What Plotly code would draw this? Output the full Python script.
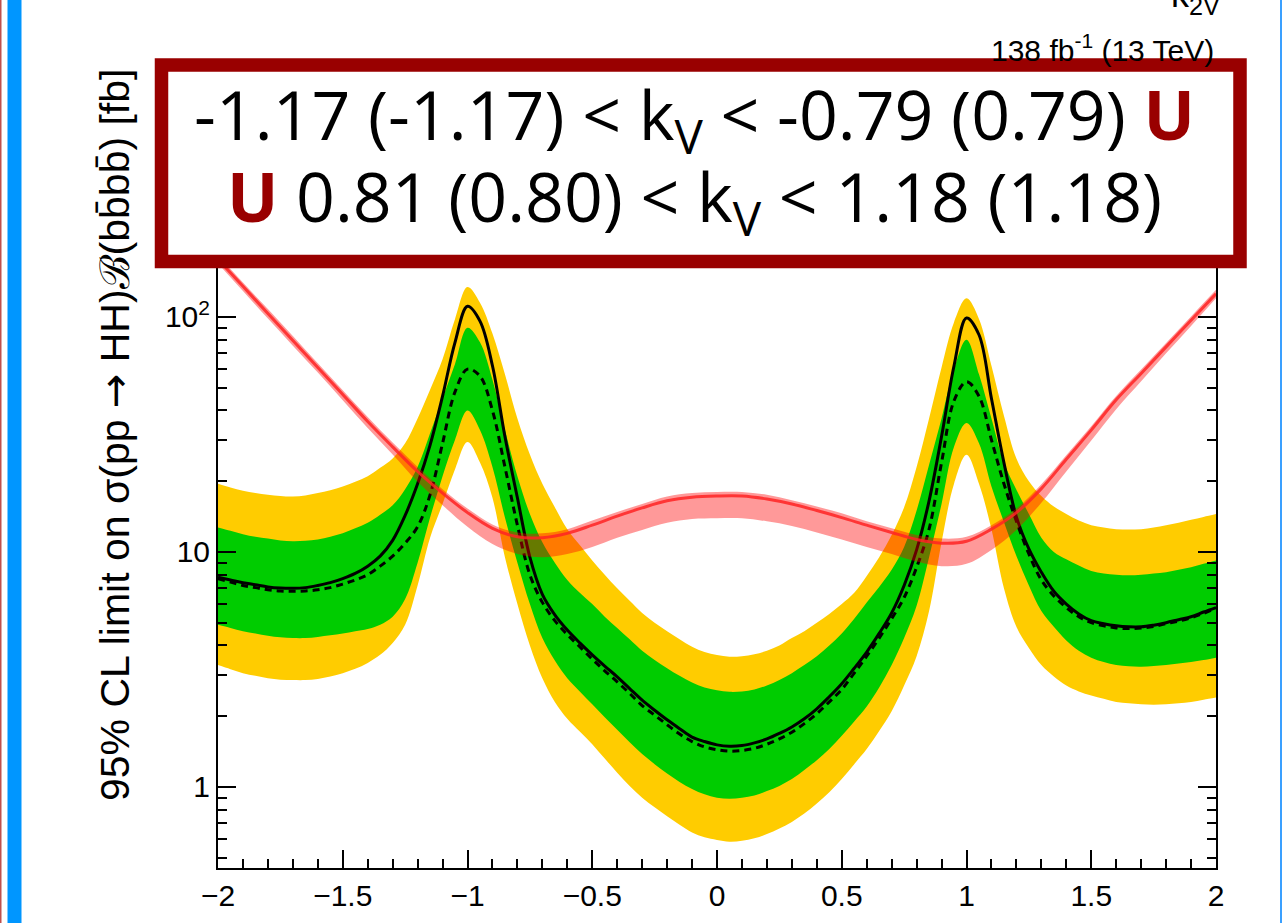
import plotly.graph_objects as go

# ---- kappa_2V scan points ----
k2v = [-2.00, -1.95, -1.90, -1.85, -1.80, -1.75, -1.70, -1.65, -1.60, -1.55,
       -1.50, -1.45, -1.40, -1.35, -1.30, -1.25, -1.20, -1.15, -1.10, -1.05,
       -1.00, -0.95, -0.90, -0.85, -0.80, -0.75, -0.70, -0.65, -0.60, -0.55,
       -0.50, -0.45, -0.40, -0.35, -0.30, -0.25, -0.20, -0.15, -0.10, -0.05,
       0.00, 0.05, 0.10, 0.15, 0.20, 0.25, 0.30, 0.35, 0.40, 0.45,
       0.50, 0.55, 0.60, 0.65, 0.70, 0.75, 0.80, 0.85, 0.90, 0.95,
       1.00, 1.05, 1.10, 1.15, 1.20, 1.25, 1.30, 1.35, 1.40, 1.45,
       1.50, 1.55, 1.60, 1.65, 1.70, 1.75, 1.80, 1.85, 1.90, 1.95, 2.00]

# observed 95% CL upper limit [fb]
observed = [7.8, 7.6, 7.4, 7.25, 7.1, 7.02, 7.0, 7.05, 7.2, 7.4,
            7.7, 8.1, 8.7, 9.6, 11.2, 14.3, 19.5, 28.5, 46, 78,
            111, 96, 62, 31, 17, 9.5, 6.6, 5.4, 4.65, 4.1,
            3.65, 3.27, 2.94, 2.62, 2.34, 2.12, 1.93, 1.77, 1.63, 1.56,
            1.51, 1.49, 1.50, 1.54, 1.60, 1.69, 1.80, 1.95, 2.15, 2.42,
            2.75, 3.2, 3.75, 4.5, 5.5, 7.2, 10.2, 16.5, 31, 62,
            99, 84, 45, 24, 14.1, 10.3, 8.2, 6.8, 6.0, 5.45,
            5.1, 4.95, 4.85, 4.8, 4.8, 4.88, 5.0, 5.15, 5.3, 5.55, 5.8]

# median expected limit [fb]
expected = [7.7, 7.45, 7.2, 7.05, 6.9, 6.82, 6.8, 6.82, 6.9, 7.05,
            7.3, 7.6, 8.0, 8.7, 9.6, 10.9, 12.8, 17.5, 29, 48,
            60, 56, 40, 23, 13, 8.0, 6.1, 5.1, 4.45, 3.95,
            3.5, 3.12, 2.8, 2.5, 2.22, 2.02, 1.84, 1.68, 1.56, 1.48,
            1.44, 1.42, 1.43, 1.46, 1.52, 1.6, 1.71, 1.86, 2.05, 2.3,
            2.6, 3.05, 3.6, 4.3, 5.2, 6.4, 8.6, 12.5, 24, 44,
            53, 46, 30, 19.5, 13.5, 9.8, 7.6, 6.5, 5.8, 5.3,
            5.0, 4.85, 4.75, 4.72, 4.74, 4.82, 4.95, 5.08, 5.25, 5.48, 5.75]

# expected +2 sigma / -2 sigma
exp_p2 = [19.5, 18.8, 18.2, 17.8, 17.5, 17.3, 17.2, 17.4, 17.8, 18.3,
          19.0, 19.9, 21.0, 22.8, 25, 29, 37, 49, 66, 98,
          134, 115, 85, 57, 37, 26, 19.5, 15.5, 12.5, 10.7,
          9.2, 8.0, 7.0, 6.2, 5.5, 5.0, 4.6, 4.25, 3.95, 3.75,
          3.64, 3.58, 3.6, 3.67, 3.8, 4.0, 4.3, 4.6, 5.0, 5.45,
          6.0, 6.7, 7.9, 9.5, 11.8, 15.5, 23, 37, 61, 95,
          120, 98, 62, 38, 25, 20, 17.3, 15.6, 14.5, 13.6,
          13.0, 12.7, 12.5, 12.45, 12.5, 12.7, 13.0, 13.3, 13.7, 14.1, 14.5]
exp_m2 = [3.3, 3.17, 3.05, 2.97, 2.9, 2.86, 2.85, 2.85, 2.88, 2.95,
          3.05, 3.18, 3.37, 3.65, 4.1, 4.9, 7.2, 11.5, 16, 22.5,
          29.4, 24, 17, 9.5, 6.0, 4.0, 2.9, 2.3, 1.95, 1.72,
          1.52, 1.32, 1.15, 1.01, 0.9, 0.82, 0.75, 0.69, 0.64, 0.61,
          0.595, 0.585, 0.59, 0.605, 0.63, 0.665, 0.71, 0.77, 0.85, 0.95,
          1.08, 1.25, 1.45, 1.73, 2.1, 2.7, 3.6, 5.6, 11, 19.5,
          25.9, 19.5, 12.5, 7.0, 4.8, 3.9, 3.3, 2.95, 2.7, 2.55,
          2.45, 2.37, 2.3, 2.27, 2.25, 2.24, 2.25, 2.27, 2.3, 2.35, 2.4]

# expected +1 sigma / -1 sigma
exp_p1 = [12.7, 12.3, 11.9, 11.6, 11.4, 11.2, 11.1, 11.15, 11.3, 11.6,
          12.0, 12.6, 13.3, 14.4, 15.8, 18.5, 23, 32, 45, 63,
          90, 78, 54, 33, 21, 14.5, 11.0, 9.0, 7.6, 6.7,
          6.0, 5.3, 4.75, 4.25, 3.8, 3.47, 3.2, 2.97, 2.78, 2.65,
          2.58, 2.54, 2.55, 2.6, 2.7, 2.85, 3.05, 3.3, 3.6, 4.0,
          4.5, 5.2, 6.1, 7.1, 8.4, 10.5, 15, 23.5, 37, 60,
          80, 57, 37, 24, 18.4, 14.5, 11.5, 10.0, 9.3, 8.75,
          8.3, 8.1, 8.0, 7.95, 8.0, 8.1, 8.2, 8.4, 8.6, 8.9, 9.2]
exp_m1 = [4.9, 4.75, 4.6, 4.5, 4.4, 4.33, 4.3, 4.3, 4.35, 4.42,
          4.5, 4.6, 4.7, 4.9, 5.3, 6.3, 9.0, 14, 21, 30,
          40, 33, 23, 14, 9.0, 6.0, 4.3, 3.45, 2.9, 2.55,
          2.25, 1.98, 1.75, 1.55, 1.38, 1.25, 1.14, 1.05, 0.98, 0.93,
          0.9, 0.89, 0.9, 0.92, 0.96, 1.01, 1.08, 1.18, 1.3, 1.45,
          1.65, 1.9, 2.2, 2.65, 3.3, 4.3, 5.9, 9.5, 16, 28,
          35.4, 29, 19, 13.4, 9.6, 7.2, 5.6, 4.8, 4.2, 3.8,
          3.55, 3.4, 3.3, 3.26, 3.25, 3.27, 3.3, 3.35, 3.4, 3.47, 3.55]

# theory prediction sigma(pp->HH) x B(bbbb) [fb] with its uncertainty
k2v_th = [-2.0, -1.9, -1.8, -1.7, -1.6, -1.5, -1.4, -1.3, -1.2, -1.1, -1.0,
          -0.9, -0.8, -0.7, -0.6, -0.5, -0.4, -0.3, -0.2, -0.1, 0.0,
          0.1, 0.2, 0.3, 0.4, 0.5, 0.6, 0.7, 0.8, 0.9, 1.0,
          1.1, 1.2, 1.3, 1.4, 1.5, 1.6, 1.7, 1.8, 1.9, 2.0]
theory = [176, 135, 103.5, 79.4, 61, 46.8, 35.9, 28.0, 22.0, 17.8, 14.7,
          12.6, 11.6, 11.5, 12.0, 13.0, 14.2, 15.4, 16.5, 17.1, 17.3,
          17.3, 16.8, 16.0, 15.0, 14.0, 13.0, 12.1, 11.3, 10.9, 11.1,
          12.5, 14.7, 18.6, 24.8, 33.0, 44.4, 57.5, 74.6, 96.8, 125.6]
theory_lo = [169, 129, 98.5, 75.5, 58, 44.2, 33.7, 26.0, 19.9, 15.8, 12.8,
             10.8, 9.8, 9.5, 9.8, 10.5, 11.5, 12.4, 13.3, 13.8, 13.9,
             13.9, 13.5, 12.9, 12.1, 11.3, 10.5, 9.8, 9.1, 8.7, 8.9,
             10.2, 12.4, 16.2, 22.0, 29.8, 40.5, 53.2, 70.0, 91.5, 120]
theory_hi = [183, 140, 108, 83, 63.5, 48.8, 37.5, 29.2, 23.0, 18.5, 15.3,
             13.1, 12.1, 12.0, 12.5, 13.6, 14.8, 16.0, 17.2, 17.8, 18.0,
             18.0, 17.5, 16.6, 15.6, 14.6, 13.5, 12.6, 11.8, 11.4, 11.6,
             13.0, 15.3, 19.4, 25.8, 34.3, 46.1, 59.8, 77.5, 100.5, 130.5]

y_tickvals = [1, 10, 100, 1000]
y_ticktext = ["1", "10", "10<sup>2</sup>", "10<sup>3</sup>"]

YELLOW = "#FFCC00"
GREEN = "#00CC00"
SMOOTH = 1.0

fig = go.Figure()


def band(lo, hi, color):
    fig.add_trace(go.Scatter(x=k2v, y=lo, mode="lines",
                             line=dict(width=0, shape="spline", smoothing=SMOOTH),
                             hoverinfo="skip", showlegend=False))
    fig.add_trace(go.Scatter(x=k2v, y=hi, mode="lines", fill="tonexty",
                             fillcolor=color,
                             line=dict(width=0, shape="spline", smoothing=SMOOTH),
                             hoverinfo="skip", showlegend=False))


band(exp_m2, exp_p2, YELLOW)
band(exp_m1, exp_p1, GREEN)

fig.add_trace(go.Scatter(x=k2v, y=expected, mode="lines",
                         line=dict(color="black", width=3, dash="7px,5px",
                                   shape="spline", smoothing=SMOOTH),
                         showlegend=False))
fig.add_trace(go.Scatter(x=k2v, y=observed, mode="lines",
                         line=dict(color="black", width=3,
                                   shape="spline", smoothing=SMOOTH),
                         showlegend=False))

# theory band and central prediction
fig.add_trace(go.Scatter(x=k2v_th, y=theory_lo, mode="lines",
                         line=dict(width=0, shape="spline", smoothing=SMOOTH),
                         hoverinfo="skip", showlegend=False))
fig.add_trace(go.Scatter(x=k2v_th, y=theory_hi, mode="lines", fill="tonexty",
                         fillcolor="rgba(255,0,0,0.4)",
                         line=dict(width=0, shape="spline", smoothing=SMOOTH),
                         hoverinfo="skip", showlegend=False))
fig.add_trace(go.Scatter(x=k2v_th, y=theory, mode="lines",
                         line=dict(color="rgba(255,35,35,0.85)", width=3,
                                   shape="spline", smoothing=SMOOTH),
                         showlegend=False))

# plot area in pixels: x 218..1216, y 62..868
L, R, T, B = 218, 66, 62, 55
W, H = 1282 - L - R, 923 - T - B


def px(xp):
    return (xp - L) / W


def py(yp):
    return (923 - B - yp) / H


SANS = "Liberation Sans, Arial, sans-serif"
AX_FONT = dict(family=SANS, size=30, color="black")

fig.update_xaxes(range=[-2, 2], dtick=0.5, showgrid=False, zeroline=False,
                 showline=True, linecolor="black", linewidth=2, mirror="ticks",
                 ticks="inside", ticklen=18, tickwidth=2, tickcolor="black",
                 tickfont=AX_FONT,
                 minor=dict(ticks="inside", ticklen=9, tickwidth=2,
                            tickcolor="black", dtick=0.1, showgrid=False))
fig.update_yaxes(type="log", range=[-0.345, 3.085], showgrid=False, zeroline=False,
                 showline=True, linecolor="black", linewidth=2, mirror="ticks",
                 ticks="inside", ticklen=18, tickwidth=2, tickcolor="black",
                 tickvals=y_tickvals, ticktext=y_ticktext, tickfont=AX_FONT,
                 minor=dict(ticks="inside", ticklen=9, tickwidth=2,
                            tickcolor="black", dtick="D1", showgrid=False))

shapes = [
    # page decorations
    dict(type="rect", xref="paper", yref="paper", x0=px(0), x1=px(1.5),
         y0=py(940), y1=py(-20), fillcolor="#c0504d", line=dict(width=0), layer="above"),
    dict(type="rect", xref="paper", yref="paper", x0=px(7.5), x1=px(21.5),
         y0=py(940), y1=py(-20), fillcolor="#0096FF", line=dict(width=0), layer="above"),
    dict(type="rect", xref="paper", yref="paper", x0=px(1280), x1=px(1282),
         y0=py(940), y1=py(-20), fillcolor="#3aa0ff", line=dict(width=0), layer="above"),
    # result box
    dict(type="rect", xref="paper", yref="paper", x0=px(161.5), x1=px(1240),
         y0=py(261.5), y1=py(65), fillcolor="white",
         line=dict(color="#990000", width=13.5), layer="above"),
]

BOX_FONT = dict(family="Open Sans, Noto Sans, sans-serif", size=68, color="black")
U = "<b><span style='color:#990000'>U</span></b>"
ARROW = "<span style='font-family:DejaVu Sans'>→</span>"

annotations = [
    dict(xref="paper", yref="paper", x=px(694), y=py(117), xanchor="center",
         yanchor="middle", showarrow=False, font=BOX_FONT,
         text="-1.17 (-1.17) &lt; k<sub>V</sub> &lt; -0.79 (0.79) " + U),
    dict(xref="paper", yref="paper", x=px(694), y=py(199), xanchor="center",
         yanchor="middle", showarrow=False, font=BOX_FONT,
         text=U + " 0.81 (0.80) &lt; k<sub>V</sub> &lt; 1.18 (1.18)"),
    dict(xref="paper", yref="paper", x=px(1216), y=py(48), xanchor="right",
         yanchor="middle", showarrow=False,
         font=dict(family=SANS, size=30, color="black"),
         text="138 fb<sup>-1</sup> (13 TeV)"),
    dict(xref="paper", yref="paper", x=px(1222), y=py(22), xanchor="right",
         yanchor="bottom", showarrow=False,
         font=dict(family=SANS, size=36, color="black"),
         text="κ<sub>2V</sub>"),
    dict(xref="paper", yref="paper", x=px(1124), y=py(912), xanchor="left",
         yanchor="top", showarrow=False,
         font=dict(family=SANS, size=36, color="black"),
         text="κ<sub>2V</sub>"),
    dict(xref="paper", yref="paper", x=px(115), y=py(435), xanchor="center",
         yanchor="middle", showarrow=False, textangle=-90,
         font=dict(family=SANS, size=41, color="black"),
         text="95% CL limit on σ(pp " + ARROW + " HH)ℬ(bb\u0304bb\u0304) [fb]"),
]

fig.update_layout(width=1282, height=923, margin=dict(l=L, r=R, t=T, b=B),
                  paper_bgcolor="white", plot_bgcolor="white",
                  showlegend=False, shapes=shapes, annotations=annotations)

fig.write_html("out.html")
